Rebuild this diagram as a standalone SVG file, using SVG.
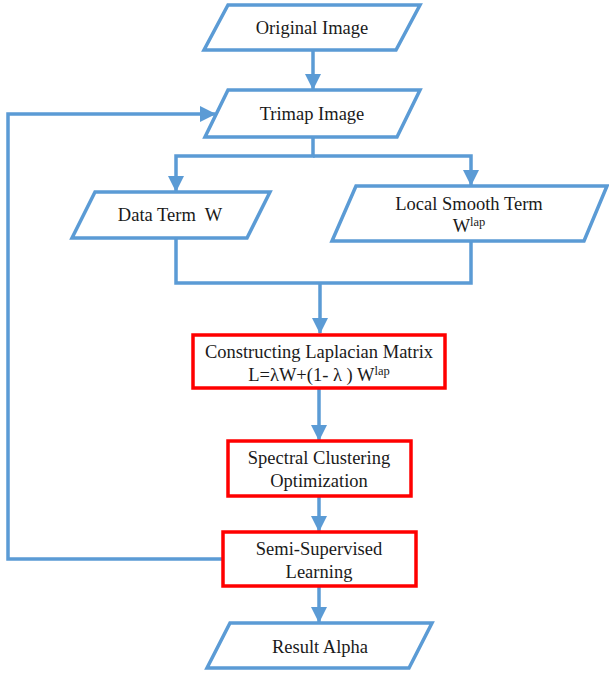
<svg xmlns="http://www.w3.org/2000/svg" width="609" height="675" viewBox="0 0 609 675">
<style>
.io{fill:#fff;stroke:#5B9BD5;stroke-width:3.5;stroke-linejoin:miter}
.pr{fill:#fff;stroke:#FF0000;stroke-width:3.5}
.c{fill:none;stroke:#5B9BD5;stroke-width:3.5}
text{font-family:"Liberation Serif","Times New Roman",serif;font-size:18.5px;fill:#1a1a1a;text-anchor:middle;white-space:pre}
.sup{font-size:12.5px}
</style>
<defs>
<marker id="ah" markerUnits="userSpaceOnUse" markerWidth="16" markerHeight="16" viewBox="0 0 16 16" refX="15" refY="8" orient="auto">
<path d="M0,0 L16,8 L0,16 Z" fill="#5B9BD5"/>
</marker>
</defs>
<rect width="609" height="675" fill="#fff"/>
<g id="connectors">
<path class="c" d="M313,50 V89" marker-end="url(#ah)"/>
<path class="c" d="M313,137 V156 H176 V191" marker-end="url(#ah)"/>
<path class="c" d="M313,156 H471 V185" marker-end="url(#ah)"/>
<path class="c" d="M176,238 V283 H471 V241"/>
<path class="c" d="M320,283 V333" marker-end="url(#ah)"/>
<path class="c" d="M319,388 V440" marker-end="url(#ah)"/>
<path class="c" d="M319,496 V531" marker-end="url(#ah)"/>
<path class="c" d="M319,586 V622" marker-end="url(#ah)"/>
<path class="c" d="M223,559 H8 V114 H215" marker-end="url(#ah)"/>
</g>
<g id="original">
<polygon class="io" points="228,5 420,5 396,50 204,50"/>
<text x="312" y="34">Original Image</text>
</g>
<g id="trimap">
<polygon class="io" points="228,90 420,90 397,137 205,137"/>
<text x="312" y="120">Trimap Image</text>
</g>
<g id="dataterm">
<polygon class="io" points="95,192 270,192 247,238 72,238"/>
<text x="170" y="221">Data Term  W</text>
</g>
<g id="localsmooth">
<polygon class="io" points="356,186 607,186 584,241 332,241"/>
<text x="469" y="210">Local Smooth Term</text>
<text x="469" y="232">W<tspan class="sup" dy="-6">lap</tspan></text>
</g>
<g id="laplacian">
<rect class="pr" x="193" y="335" width="252" height="53"/>
<text x="319" y="358">Constructing Laplacian Matrix</text>
<text x="319" y="381">L=λW+(1- λ ) W<tspan class="sup" dy="-6">lap</tspan></text>
</g>
<g id="spectral">
<rect class="pr" x="228" y="441" width="183" height="55"/>
<text x="319" y="464">Spectral Clustering</text>
<text x="319" y="487">Optimization</text>
</g>
<g id="semisupervised">
<rect class="pr" x="223" y="532" width="193" height="54"/>
<text x="319" y="555">Semi-Supervised</text>
<text x="319" y="578">Learning</text>
</g>
<g id="result">
<polygon class="io" points="230,623 432,623 409,668 207,668"/>
<text x="320" y="653">Result Alpha</text>
</g>
</svg>
